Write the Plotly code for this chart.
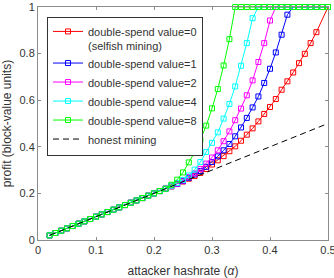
import plotly.graph_objects as go

alpha = [0.02, 0.03, 0.04, 0.05, 0.06, 0.07, 0.08, 0.09, 0.10, 0.11, 0.12,
         0.13, 0.14, 0.15, 0.16, 0.17, 0.18, 0.19, 0.20, 0.21, 0.22,
         0.23, 0.24, 0.25, 0.26, 0.27, 0.28, 0.29, 0.30, 0.31, 0.32, 0.33,
         0.34, 0.35, 0.36, 0.37, 0.38, 0.39, 0.40, 0.41, 0.42, 0.43, 0.44,
         0.45, 0.46, 0.47, 0.48, 0.49, 0.50]

shared_low = [0.02, 0.03, 0.04, 0.05, 0.06, 0.07, 0.08, 0.09, 0.10, 0.11, 0.12,
              0.13, 0.14, 0.15, 0.16, 0.17, 0.18, 0.19, 0.20, 0.21, 0.22]

ds0 = shared_low + [0.230, 0.240, 0.251, 0.263, 0.275, 0.288, 0.305, 0.324, 0.342, 0.360,
                    0.381, 0.402, 0.426, 0.452, 0.479, 0.509, 0.541, 0.571, 0.605, 0.645,
                    0.681, 0.719, 0.759, 0.799, 0.845, 0.892, None, 1.0]
ds1 = shared_low + [0.231, 0.241, 0.253, 0.267, 0.281, 0.296, 0.314, 0.335, 0.359, 0.385,
                    0.412, 0.445, 0.483, 0.524, 0.569, 0.616, 0.674, 0.735, 0.805, 0.881,
                    0.967, 1.0, 1.0, 1.0, 1.0, 1.0, 1.0, 1.0]
ds2 = shared_low + [0.232, 0.242, 0.255, 0.270, 0.286, 0.305, 0.328, 0.354, 0.385, 0.424,
                    0.466, 0.514, 0.564, 0.621, 0.685, 0.764, 0.845, 0.942, 1.0, 1.0,
                    1.0, 1.0, 1.0, 1.0, 1.0, 1.0, 1.0, 1.0]
ds4 = shared_low + [0.233, 0.245, 0.258, 0.277, 0.302, 0.335, 0.378, 0.417, 0.462, 0.521,
                    0.584, 0.659, 0.748, 0.845, 0.952, 1.0, 1.0, 1.0, 1.0, 1.0,
                    1.0, 1.0, 1.0, 1.0, 1.0, 1.0, 1.0, 1.0]
ds8 = shared_low + [0.237, 0.259, 0.290, 0.333, 0.376, 0.430, 0.491, 0.565, 0.648, 0.749,
                    0.862, 1.0, 1.0, 1.0, 1.0, 1.0, 1.0, 1.0, 1.0, 1.0,
                    1.0, 1.0, 1.0, 1.0, 1.0, 1.0, 1.0, 1.0]
honest = alpha

series = [
    ("double-spend value=0<br>(selfish mining)", ds0, "#ff0000"),
    ("double-spend value=1", ds1, "#0000ff"),
    ("double-spend value=2", ds2, "#ff00ff"),
    ("double-spend value=4", ds4, "#00ffff"),
    ("double-spend value=8", ds8, "#00ff00"),
]

x_ticks = [0, 0.1, 0.2, 0.3, 0.4, 0.5]
x_labels = ["0", "0.1", "0.2", "0.3", "0.4", "0.5"]
y_ticks = [0, 0.2, 0.4, 0.6, 0.8, 1]
y_labels = ["0", "0.2", "0.4", "0.6", "0.8", "1"]

fig = go.Figure()
for name, vals, col in series:
    fig.add_trace(go.Scatter(
        x=alpha, y=vals, name=name, mode="lines+markers",
        connectgaps=True, cliponaxis=False,
        line=dict(color=col, width=1),
        marker=dict(symbol="square-open", size=5, color=col, line=dict(width=1, color=col)),
    ))
fig.add_trace(go.Scatter(
    x=alpha, y=honest, name="honest mining", mode="lines",
    line=dict(color="black", width=1, dash="6px,4px"),
))

axis_common = dict(
    showline=True, linecolor="#8c8c8c", linewidth=1, mirror="allticks",
    ticks="inside", ticklen=3, tickcolor="#8c8c8c",
    showgrid=False, zeroline=False, automargin=False,
    ticklabeloverflow="allow",
    tickfont=dict(family="Liberation Sans, Arial, sans-serif", size=11, color="#333333"),
)

fig.update_layout(
    width=334, height=278,
    margin=dict(l=38, r=6, t=7, b=38, autoexpand=False),
    paper_bgcolor="white", plot_bgcolor="white",
    font=dict(family="Liberation Sans, Arial, sans-serif", size=11, color="#333333"),
    xaxis=dict(range=[0, 0.5], tickvals=x_ticks, ticktext=x_labels,
               title=dict(text="attacker hashrate (<i>α</i>)",
                          font=dict(size=12, color="#333333")),
               **axis_common),
    yaxis=dict(range=[0, 1], tickvals=y_ticks, ticktext=y_labels,
               title=dict(text="profit (block-value units)",
                          font=dict(size=12, color="#333333")),
               **axis_common),
    legend=dict(x=0.031, y=0.958, xanchor="left", yanchor="top",
                bgcolor="white", bordercolor="#333333", borderwidth=1,
                font=dict(size=11, color="#333333"), valign="top",
                itemwidth=30, tracegroupgap=0),
    showlegend=True,
)

fig.write_html("out.html",
               config={"displayModeBar": False},
               post_script="document.body.style.margin='0';document.body.style.overflow='hidden';")
